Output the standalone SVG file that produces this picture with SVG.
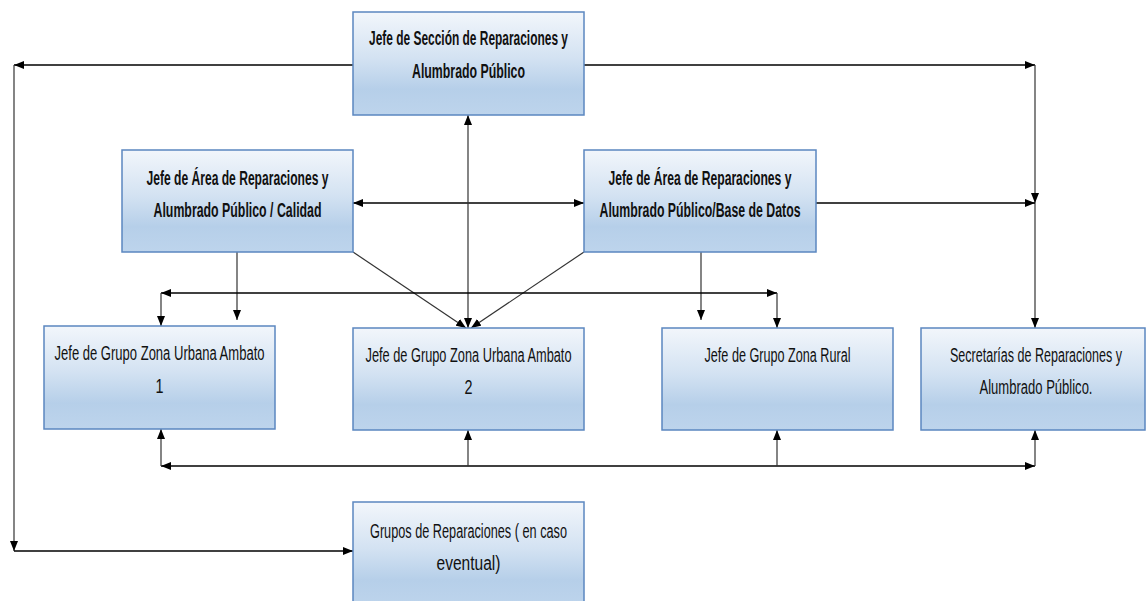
<svg xmlns="http://www.w3.org/2000/svg" width="1146" height="601" viewBox="0 0 1146 601">
  <defs>
    <linearGradient id="boxFill" x1="0" y1="0" x2="0" y2="1">
      <stop offset="0" stop-color="#f2f6fb"/>
      <stop offset="0.45" stop-color="#d3e2f2"/>
      <stop offset="0.75" stop-color="#b6cfe9"/>
      <stop offset="1" stop-color="#bdd4ec"/>
    </linearGradient>
    <marker id="arrow" viewBox="0 0 10 8" refX="10" refY="4" markerWidth="10" markerHeight="8" markerUnits="userSpaceOnUse" orient="auto-start-reverse">
      <path d="M0,0 L10,4 L0,8 z" fill="#000"/>
    </marker>
    <style>
      .box { fill: url(#boxFill); stroke: #5b87c0; stroke-width: 1.5; }
      .t { font-family: "Liberation Sans Narrow", "Liberation Sans", Arial, sans-serif; font-size: 20px; fill: #111; text-anchor: middle; }
      .b { font-weight: bold; }
      .c { fill: none; stroke: #000; stroke-width: 1.4; }
      .v { fill: none; stroke: #333; stroke-width: 1.2; }
      .e { marker-end: url(#arrow); }
      .s { marker-start: url(#arrow); }
    </style>
  </defs>
  <rect width="1146" height="601" fill="#fff"/>

  <!-- connectors -->
  <g id="connectors">
    <!-- from the section head: left trunk to repair groups -->
    <line class="c e" x1="353" y1="65" x2="14" y2="65"/>
    <line class="v e" x1="14" y1="65" x2="14" y2="551"/>
    <line class="c e" x1="14" y1="551" x2="353" y2="551"/>
    <!-- from the section head: right trunk to secretaries -->
    <line class="c e" x1="584" y1="65" x2="1035" y2="65"/>
    <line class="v e" x1="1035" y1="65" x2="1035" y2="203"/>
    <line class="v e" x1="1035" y1="203" x2="1035" y2="328"/>
    <line class="c e" x1="816" y1="203" x2="1035" y2="203"/>
    <!-- between area heads -->
    <line class="c s e" x1="353" y1="203" x2="584" y2="203"/>
    <!-- section head to urban group 2 -->
    <line class="v s e" x1="468" y1="115" x2="468" y2="328"/>
    <!-- diagonals from area heads -->
    <line class="v e" x1="353" y1="252" x2="466" y2="328"/>
    <line class="v e" x1="584" y1="252" x2="471" y2="328"/>
    <!-- area heads down to groups -->
    <line class="v e" x1="237" y1="252" x2="237" y2="320"/>
    <line class="v e" x1="701" y1="252" x2="701" y2="320"/>
    <!-- upper bus -->
    <line class="c s e" x1="161" y1="293" x2="777" y2="293"/>
    <line class="v e" x1="161" y1="293" x2="161" y2="326"/>
    <line class="v e" x1="777" y1="293" x2="777" y2="328"/>
    <!-- lower bus -->
    <line class="c s e" x1="161" y1="466" x2="1035" y2="466"/>
    <line class="v e" x1="161" y1="466" x2="161" y2="429"/>
    <line class="v e" x1="468" y1="466" x2="468" y2="430"/>
    <line class="v e" x1="777" y1="466" x2="777" y2="430"/>
    <line class="v e" x1="1035" y1="466" x2="1035" y2="430"/>
  </g>

  <g id="jefe-seccion">
    <rect class="box" x="353" y="12" width="231" height="103"/>
    <text class="t b" x="468.5" y="45" textLength="199" lengthAdjust="spacingAndGlyphs">Jefe de Sección de Reparaciones y</text>
    <text class="t b" x="468.5" y="78" textLength="113" lengthAdjust="spacingAndGlyphs">Alumbrado Público</text>
  </g>

  <g id="jefe-area-calidad">
    <rect class="box" x="122" y="150" width="231" height="102"/>
    <text class="t b" x="237.5" y="185" textLength="182" lengthAdjust="spacingAndGlyphs">Jefe de Área de Reparaciones y</text>
    <text class="t b" x="237.5" y="217" textLength="168" lengthAdjust="spacingAndGlyphs">Alumbrado Público / Calidad</text>
  </g>

  <g id="jefe-area-datos">
    <rect class="box" x="584" y="150" width="232" height="102"/>
    <text class="t b" x="700" y="185" textLength="183" lengthAdjust="spacingAndGlyphs">Jefe de Área de Reparaciones y</text>
    <text class="t b" x="700" y="217" textLength="201" lengthAdjust="spacingAndGlyphs">Alumbrado Público/Base de Datos</text>
  </g>

  <g id="grupo-urbana-1">
    <rect class="box" x="44" y="326" width="231" height="103"/>
    <text class="t" x="159.5" y="360" textLength="210" lengthAdjust="spacingAndGlyphs">Jefe de Grupo Zona Urbana Ambato</text>
    <text class="t" x="159.5" y="393" textLength="8" lengthAdjust="spacingAndGlyphs">1</text>
  </g>

  <g id="grupo-urbana-2">
    <rect class="box" x="353" y="328" width="231" height="102"/>
    <text class="t" x="468.5" y="362" textLength="206" lengthAdjust="spacingAndGlyphs">Jefe de Grupo Zona Urbana Ambato</text>
    <text class="t" x="468.5" y="394" textLength="8" lengthAdjust="spacingAndGlyphs">2</text>
  </g>

  <g id="grupo-rural">
    <rect class="box" x="662" y="328" width="231" height="102"/>
    <text class="t" x="777.5" y="362" textLength="146" lengthAdjust="spacingAndGlyphs">Jefe de Grupo Zona Rural</text>
  </g>

  <g id="secretarias">
    <rect class="box" x="921" y="328" width="224" height="102"/>
    <text class="t" x="1036" y="362" textLength="172" lengthAdjust="spacingAndGlyphs">Secretarías de Reparaciones y</text>
    <text class="t" x="1036" y="394" textLength="113" lengthAdjust="spacingAndGlyphs">Alumbrado Público.</text>
  </g>

  <g id="grupos-reparaciones">
    <rect class="box" x="353" y="502" width="231" height="104"/>
    <text class="t" x="468.5" y="538" textLength="197" lengthAdjust="spacingAndGlyphs">Grupos de Reparaciones ( en caso</text>
    <text class="t" x="468.5" y="570" textLength="64" lengthAdjust="spacingAndGlyphs">eventual)</text>
  </g>
</svg>
